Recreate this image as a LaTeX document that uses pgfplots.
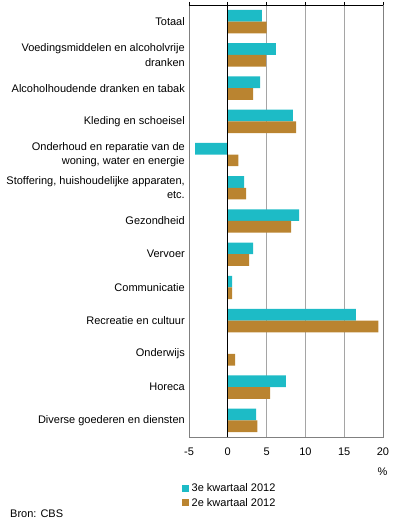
\documentclass[border=0pt]{standalone}
\usepackage{pgfplots}
\pgfplotsset{compat=1.18}
\usepackage{fontspec}
\setmainfont{Liberation Sans}
\definecolor{tealc}{RGB}{29,187,198}
\definecolor{brownc}{RGB}{186,132,48}
\definecolor{gridgray}{RGB}{165,165,165}
\definecolor{axgray}{RGB}{128,128,128}
\newcommand\cf{\fontsize{11bp}{14.5bp}\selectfont}
\begin{document}
\begin{tikzpicture}
\begin{axis}[
  name=ax,
  scale only axis, width=194bp, height=432bp,
  xbar, bar width=11.7bp,
  xmin=-5, xmax=20, ymin=-0.5, ymax=12.5,
  xtick={-5,0,5,10,15,20},
  xticklabels={-5,0,5,10,15,20},
  ytick={0,...,12},
  yticklabels={Diverse goederen en diensten, Horeca, Onderwijs, Recreatie en cultuur, Communicatie, Vervoer, Gezondheid, {Stoffering, huishoudelijke apparaten,\\etc.}, {Onderhoud en reparatie van de\\woning, water en energie}, Kleding en schoeisel, Alcoholhoudende dranken en tabak, {Voedingsmiddelen en alcoholvrije\\dranken}, Totaal},
  xmajorgrids, grid style={gridgray, line width=0.9bp},
  axis line style={axgray, line width=0.9bp},
  xtick pos=right, xticklabel pos=left,
  tick align=outside, major tick length=3bp,
  xtick style={black, line width=0.9bp},
  ytick style={draw=none},
  yticklabel style={align=right, font=\cf, inner sep=0pt, xshift=-1bp},
  xticklabel style={font=\cf, inner sep=0pt, yshift=-8bp},
  legend style={at={(0,0)}, anchor=north west, xshift=-7bp, yshift=-44bp, draw=none, fill=none, font=\cf, inner sep=0pt, row sep=0bp, nodes={inner sep=2.5bp}},
  legend cell align=left,
  legend image code/.code={\path[#1, draw=none] (0bp,-3.5bp) rectangle (7bp,3.5bp);},
]
\addplot[fill=tealc, draw=none, bar shift=5.85bp] coordinates {
(3.65,0) (7.5,1) (0,2) (16.5,3) (0.55,4) (3.25,5) (9.2,6) (2.1,7) (-4.2,8) (8.4,9) (4.15,10) (6.2,11) (4.4,12)};
\addlegendentry{3e kwartaal 2012}
\addplot[fill=brownc, draw=none, bar shift=-5.85bp] coordinates {
(3.8,0) (5.45,1) (0.95,2) (19.4,3) (0.55,4) (2.75,5) (8.15,6) (2.35,7) (1.35,8) (8.8,9) (3.25,10) (4.9,11) (5.0,12)};
\addlegendentry{2e kwartaal 2012}
\draw[black, line width=0.9bp] (rel axis cs:0,1) -- (rel axis cs:1,1);
\draw[black, line width=0.9bp] (axis cs:0,-0.5) -- (axis cs:0,12.5);
\end{axis}
\node[font=\cf, inner sep=0pt] at ([xshift=-0.5bp, yshift=-35bp]ax.south east) {\%};
\node[font=\cf, inner sep=0pt, anchor=west] at ([xshift=-179bp, yshift=-77bp]ax.south west) {Bron: CBS};
\pgfresetboundingbox
\path[use as bounding box] ([shift={(-189bp,-89bp)}]ax.south west) rectangle ++(396bp,526bp);
\end{tikzpicture}
\end{document}
